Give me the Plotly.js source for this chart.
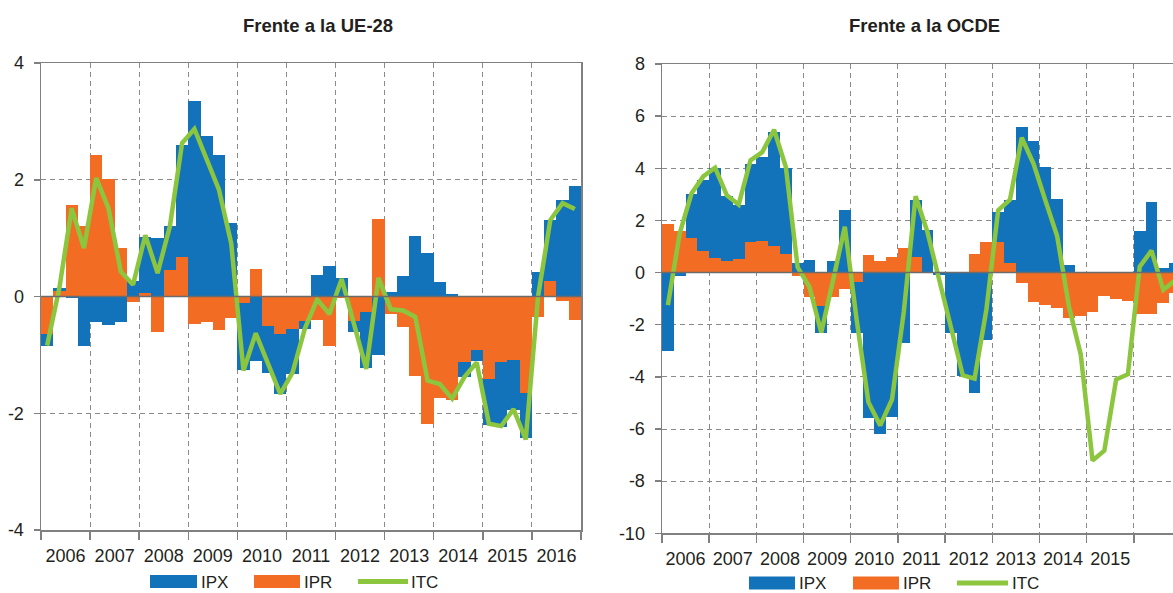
<!DOCTYPE html>
<html>
<head>
<meta charset="utf-8">
<script src="https://cdn.plot.ly/plotly-3.0.1.min.js"></script>
<style>
html,body{margin:0;padding:0;overflow:hidden;background:#fff;}
#chart{width:1190px;height:593px;}
</style>
</head>
<body>
<div id="chart"></div>
<script>
// ---- Data ----
const years = [2006, 2007, 2008, 2009, 2010, 2011, 2012, 2013, 2014, 2015, 2016];
const yearLabels = ['2006', '2007', '2008', '2009', '2010', '2011', '2012', '2013', '2014', '2015', '2016'];
const quarters = years.flatMap(y => ['T1', 'T2', 'T3', 'T4'].map(q => y + ' ' + q));

// Frente a la UE-28
const ue_IPX = [-0.20, 0.04, -0.03, -0.84, -0.43, -0.49, -0.43, 0.27, 0.96, 1.00, 0.75, 1.93,
                3.35, 2.75, 2.43, 1.26, -1.15, -1.11, -0.80, -1.03, -0.77, -0.13, 0.37, 0.53,
                0.31, -0.18, -0.96, -1.01, 0.07, 0.35, 1.04, 0.75, 0.24, 0.04, -0.25, -0.20,
                -0.79, -1.11, -0.86, -0.77, 0.42, 1.04, 1.65, 1.90];
const ue_IPR = [-0.64, 0.10, 1.57, 1.21, 2.43, 2.02, 0.83, -0.10, 0.06, -0.60, 0.46, 0.67,
                -0.47, -0.43, -0.58, -0.36, -0.11, 0.47, -0.51, -0.64, -0.55, -0.42, -0.41, -0.85,
                -0.02, -0.42, -0.27, 1.33, -0.30, -0.53, -1.37, -2.19, -1.74, -1.77, -1.13, -0.91,
                -1.41, -1.13, -1.09, -1.66, -0.35, 0.27, -0.07, -0.40];
const ue_ITC = [-0.84, 0.15, 1.51, 0.83, 2.03, 1.51, 0.43, 0.20, 1.05, 0.40, 1.20, 2.63,
                2.87, 2.35, 1.83, 0.91, -1.27, -0.63, -1.15, -1.67, -1.30, -0.55, -0.05, -0.30,
                0.30, -0.50, -1.24, 0.32, -0.22, -0.24, -0.35, -1.44, -1.50, -1.75, -1.38, -1.13,
                -2.18, -2.22, -1.93, -2.45, 0.00, 1.31, 1.60, 1.50];

// Frente a la OCDE
const oc_IPX = [-3.00, -0.15, 1.69, 2.71, 3.45, 2.50, 2.06, 2.98, 3.22, 4.39, 3.29, 0.36,
                0.47, -1.00, 0.45, 2.39, -1.92, -5.58, -6.21, -5.52, -2.70, 2.21, 1.63, -0.08,
                -2.32, -3.97, -4.60, -2.57, 1.16, 2.40, 5.60, 5.06, 4.05, 2.81, 0.29, 0.00,
                0.00, 0.00, 0.00, 0.00, 1.59, 2.70, 0.17, 0.36];
const oc_IPR = [1.86, 1.59, 1.31, 0.83, 0.55, 0.45, 0.52, 1.17, 1.21, 1.02, 0.73, -0.15,
                -0.94, -1.30, -0.94, -0.62, -0.38, 0.67, 0.45, 0.60, 0.93, 0.59, 0.00, 0.00,
                0.00, 0.00, 0.70, 1.17, 1.17, 0.37, -0.41, -1.11, -1.23, -1.34, -1.74, -1.65,
                -1.53, -0.89, -1.00, -1.08, -1.59, -1.59, -1.15, -0.79];
const oc_ITC = [-1.25, 1.50, 3.03, 3.69, 4.02, 2.96, 2.61, 4.30, 4.62, 5.48, 4.05, 0.20,
                -0.55, -2.30, -0.30, 1.76, -1.80, -4.97, -5.86, -4.87, -1.50, 2.93, 1.56, -0.27,
                -2.10, -3.94, -4.07, -1.42, 2.39, 2.80, 5.17, 4.17, 2.77, 1.40, -1.30, -3.14,
                -7.21, -6.83, -4.10, -3.90, 0.23, 0.84, -0.66, -0.30];

const ueTicks = [-4, -2, 0, 2, 4];
const ocTicks = [-10, -8, -6, -4, -2, 0, 2, 4, 6, 8];
const ocYearLabels = yearLabels.slice(0, 10);

// ---- Derived positions (quarter index on a year scale) ----
const xq = quarters.map((_, i) => years[0] + (i + 0.5) / 4);
const yearBounds = years.concat([years[years.length - 1] + 1]);
const yearMids = years.map(y => y + 0.5);

// ---- Styling ----
const W = 1190, H = 593;
const BLUE = '#1373ba', ORANGE = '#f26d23', GREEN = '#8cc63f';
const AXIS = '#808080', GRID = '#8a8a8a', TXT = '#231f20';
const FONT = 'Liberation Sans, Arial, Helvetica, sans-serif';
const px = v => v / W, py = v => 1 - v / H;

function barTrace(x, y, color, name, xa, ya) {
  return {type: 'bar', x: x, y: y, width: 0.25, name: name, xaxis: xa, yaxis: ya,
          marker: {color: color, line: {width: 0}}, showlegend: false, hoverinfo: 'skip'};
}
function lineTrace(x, y, name, xa, ya) {
  return {type: 'scatter', mode: 'lines', x: x, y: y, name: name, xaxis: xa, yaxis: ya,
          line: {color: GREEN, width: 4.5}, showlegend: false, hoverinfo: 'skip', cliponaxis: false};
}

const traces = [
  barTrace(xq, ue_IPR, ORANGE, 'IPR', 'x', 'y'),
  barTrace(xq, ue_IPX, BLUE, 'IPX', 'x', 'y'),
  lineTrace(xq, ue_ITC, 'ITC', 'x', 'y'),
  barTrace(xq, oc_IPR, ORANGE, 'IPR', 'x2', 'y2'),
  barTrace(xq, oc_IPX, BLUE, 'IPX', 'x2', 'y2'),
  lineTrace(xq, oc_ITC, 'ITC', 'x2', 'y2')
];

function xAxis(domain, anchor, labels) {
  return {
    domain: domain, anchor: anchor, range: [yearBounds[0], yearBounds[yearBounds.length - 1]],
    tickmode: 'array', tickvals: yearMids.slice(0, labels.length), ticktext: labels,
    ticks: 'outside', ticklen: 9, tickcolor: 'rgba(0,0,0,0)',
    tickfont: {family: FONT, size: 18, color: TXT},
    showgrid: false, zeroline: false,
    showline: true, linecolor: AXIS, linewidth: 1.5, mirror: true,
    minor: {tickmode: 'array', tickvals: yearBounds, ticks: 'outside', ticklen: 8,
            tickcolor: AXIS, tickwidth: 1.5, showgrid: true, gridcolor: GRID,
            gridwidth: 1, griddash: '5px,4px'},
    fixedrange: true
  };
}
function yAxis(domain, anchor, ticks) {
  return {
    domain: domain, anchor: anchor, range: [ticks[0], ticks[ticks.length - 1]],
    tickmode: 'array', tickvals: ticks, ticktext: ticks.map(v => String(v)),
    ticks: 'outside', ticklen: 6, tickcolor: AXIS, tickwidth: 1.5,
    ticklabelstandoff: 6,
    tickfont: {family: FONT, size: 18, color: TXT},
    showgrid: true, gridcolor: GRID, gridwidth: 1, griddash: '5px,4px',
    zeroline: false, showline: true, linecolor: AXIS, linewidth: 1.5, mirror: true,
    fixedrange: true
  };
}

const LEG_R = 583; // right legend centre line (kept fully inside the picture)
const shapes = [
  {type: 'line', xref: 'x domain', yref: 'y', x0: 0, x1: 1, y0: 0, y1: 0,
   line: {color: '#6b6b6b', width: 1.5}, layer: 'above'},
  {type: 'line', xref: 'x2 domain', yref: 'y2', x0: 0, x1: 1, y0: 0, y1: 0,
   line: {color: '#6b6b6b', width: 1.5}, layer: 'above'},
  // legend swatches (left)
  {type: 'rect', xref: 'paper', yref: 'paper', x0: px(150), x1: px(197), y0: py(588), y1: py(575),
   fillcolor: BLUE, line: {width: 0}},
  {type: 'rect', xref: 'paper', yref: 'paper', x0: px(254), x1: px(300), y0: py(588), y1: py(575),
   fillcolor: ORANGE, line: {width: 0}},
  {type: 'line', xref: 'paper', yref: 'paper', x0: px(358), x1: px(408), y0: py(581.5), y1: py(581.5),
   line: {color: GREEN, width: 5}},
  // legend swatches (right)
  {type: 'rect', xref: 'paper', yref: 'paper', x0: px(749), x1: px(795), y0: py(LEG_R + 6.5), y1: py(LEG_R - 6.5),
   fillcolor: BLUE, line: {width: 0}},
  {type: 'rect', xref: 'paper', yref: 'paper', x0: px(853), x1: px(899), y0: py(LEG_R + 6.5), y1: py(LEG_R - 6.5),
   fillcolor: ORANGE, line: {width: 0}},
  {type: 'line', xref: 'paper', yref: 'paper', x0: px(957), x1: px(1008), y0: py(LEG_R), y1: py(LEG_R),
   line: {color: GREEN, width: 5}}
];

function legText(text, x, y) {
  return {text: text, xref: 'paper', yref: 'paper', x: px(x), y: py(y), xanchor: 'left', yanchor: 'middle',
          showarrow: false, font: {family: FONT, size: 17, color: TXT}};
}
function titleText(text, xc) {
  return {text: text, xref: 'paper', yref: 'paper', x: px(xc), y: py(25), xanchor: 'center', yanchor: 'middle',
          showarrow: false, font: {family: FONT, size: 18.5, color: TXT, weight: 'bold'}};
}

const annotations = [
  titleText('Frente a la UE-28', 317.5),
  titleText('Frente a la OCDE', 924),
  legText('IPX', 199, 582), legText('IPR', 302, 582), legText('ITC', 409, 582),
  legText('IPX', 797, LEG_R), legText('IPR', 901, LEG_R), legText('ITC', 1010, LEG_R)
];

const layout = {
  width: W, height: H,
  margin: {l: 0, r: 0, t: 0, b: 0, pad: 0},
  paper_bgcolor: '#ffffff', plot_bgcolor: '#ffffff',
  barmode: 'relative', bargap: 0,
  showlegend: false,
  font: {family: FONT, color: TXT},
  xaxis: xAxis([px(41), px(581)], 'y', yearLabels),
  yaxis: yAxis([py(530), py(63)], 'x', ueTicks),
  xaxis2: xAxis([px(662), px(1181)], 'y2', ocYearLabels),
  yaxis2: yAxis([py(533.3), py(64)], 'x2', ocTicks),
  shapes: shapes,
  annotations: annotations
};

Plotly.newPlot('chart', traces, layout, {staticPlot: true, displayModeBar: false});
</script>
</body>
</html>
